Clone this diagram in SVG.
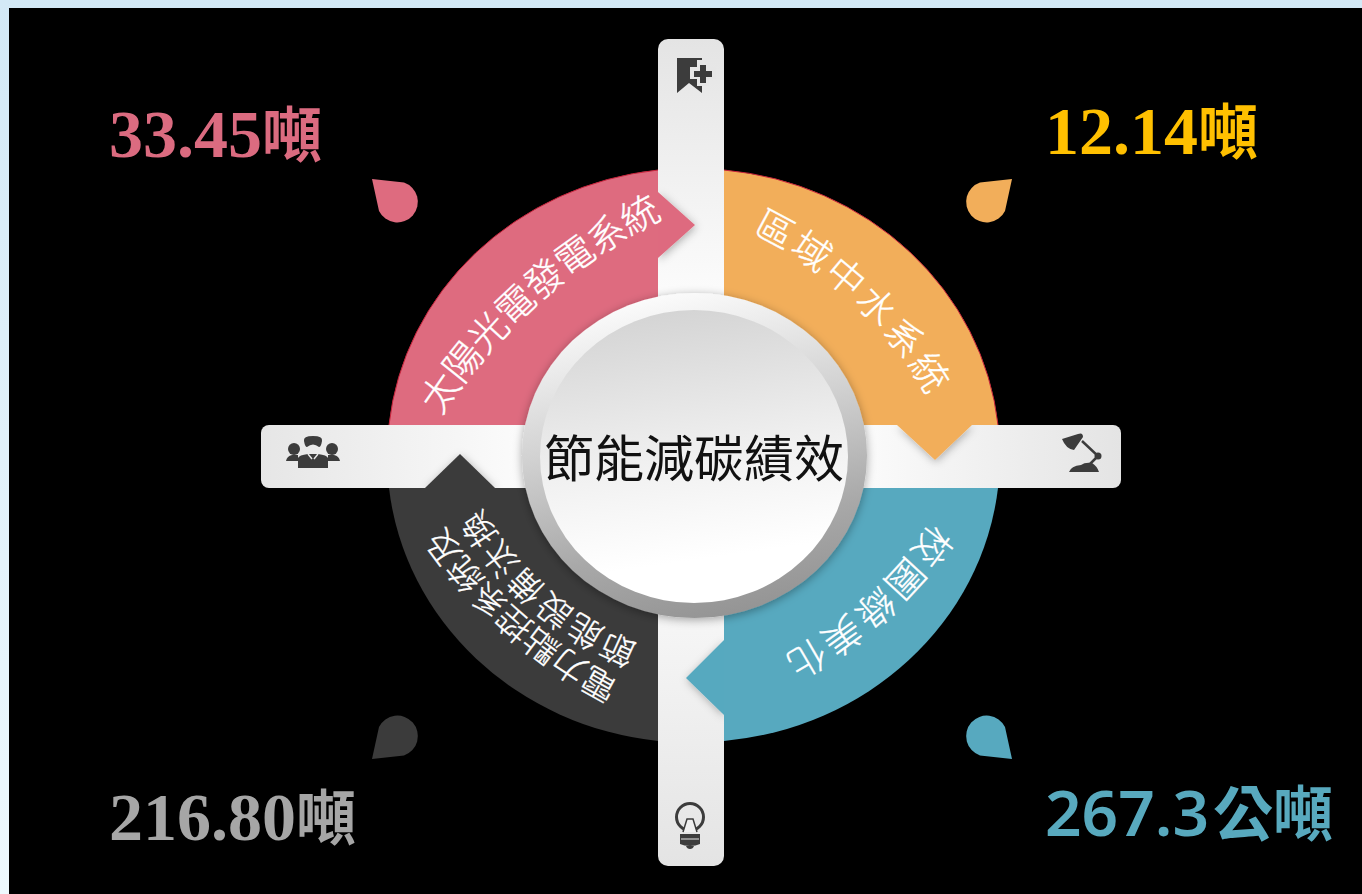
<svg xmlns="http://www.w3.org/2000/svg" width="1362" height="894" viewBox="0 0 1362 894">
<style>
.num{font-family:"Liberation Serif","Noto Sans CJK TC",serif;font-size:68px;font-weight:700}
.unit{font-family:"Noto Sans CJK TC",sans-serif;font-size:60px;font-weight:700}
.rib{font-family:"Noto Sans CJK TC","Noto Sans",sans-serif;font-weight:300;fill:#fff;stroke:#fff;stroke-width:.35;font-size:38px}
.rib2{font-size:34px}
.ico{fill:#3c3c3c}
.edge{fill:none;stroke:#c8243c;stroke-width:1}
</style>
<defs>
<linearGradient id="bg" x1="0" y1="0" x2="0" y2="1"><stop offset="0" stop-color="#d3e9f6"/><stop offset="1" stop-color="#eef9fe"/></linearGradient>
<linearGradient id="vb" x1="0" y1="0" x2="0" y2="1"><stop offset="0" stop-color="#e4e4e4"/><stop offset=".3" stop-color="#fbfbfb"/><stop offset=".7" stop-color="#f6f6f6"/><stop offset="1" stop-color="#e4e4e4"/></linearGradient>
<linearGradient id="hb" x1="0" y1="0" x2="1" y2="0"><stop offset="0" stop-color="#e6e6e6"/><stop offset=".3" stop-color="#fbfbfb"/><stop offset=".7" stop-color="#fbfbfb"/><stop offset="1" stop-color="#e4e4e4"/></linearGradient>
<linearGradient id="ring" x1="0.35" y1="0" x2="0.6" y2="1"><stop offset="0" stop-color="#fdfdfd"/><stop offset=".4" stop-color="#d2d2d2"/><stop offset=".75" stop-color="#a8a8a8"/><stop offset="1" stop-color="#949494"/></linearGradient>
<linearGradient id="disc" x1="0.4" y1="0" x2="0.55" y2="1"><stop offset="0" stop-color="#d4d4d4"/><stop offset=".5" stop-color="#f0f0f0"/><stop offset=".85" stop-color="#ffffff"/></linearGradient>
<filter id="sh" x="-20%" y="-20%" width="140%" height="140%"><feDropShadow dx="0" dy="2" stdDeviation="5" flood-color="#000" flood-opacity=".35"/></filter>
<filter id="sh2" x="-30%" y="-30%" width="160%" height="160%"><feDropShadow dx="1" dy="2" stdDeviation="4" flood-color="#000" flood-opacity=".3"/></filter>
<path id="p-pink" d="M440.7,415.9 A560,560 0 0 1 665.8,216.8 l17.7,-9.3"/>
<path id="p-orange" d="M751.9,233.1 A400,400 0 0 1 927.9,396.2 l11,16.7"/>
<path id="p-teal" d="M932.2,522.5 A416,416 0 0 1 781.4,657.3 l-17,10"/>
<path id="p-g1" d="M620.4,681.6 A490,490 0 0 1 441.4,523.6 l-12,-16"/>
<path id="p-g2" d="M638.9,644.4 A315,315 0 0 1 479.2,506 l-11,-16.7"/>
</defs>

<rect width="1362" height="894" fill="url(#bg)"/>
<rect x="9" y="8" width="1353" height="886" fill="#000"/>

<g id="connectors">
<rect id="bar-v" x="658" y="39" width="66" height="827" rx="10" fill="url(#vb)"/>
<rect id="bar-h" x="261" y="425" width="860" height="63" rx="8" fill="url(#hb)"/>
</g>

<g id="node-solar">
<path d="M658,192 L695,225 L658,258 Z" fill="#de6b7f" filter="url(#sh2)"/>
<path d="M389,425 A305,286 0 0 1 658,170 L658,425 Z" fill="#de6b7f"/>
<path class="edge" d="M389,425 A305,286 0 0 1 658,170"/>
<text class="rib"><textPath href="#p-pink" letter-spacing="-0.4">太陽光電發電系統</textPath></text>
<path d="M372,179 L404,182.5 A20.5,20.5 0 1 1 379,211 Z" fill="#de6b7f"/>
<text class="num" x="109" y="157" fill="#db6b80">33.45<tspan class="unit">噸</tspan></text>
</g>

<g id="node-water">
<path d="M897,425 L935,460 L972,425 Z" fill="#f2ae5a" filter="url(#sh2)"/>
<path d="M724,170 A305,286 0 0 1 998,425 L724,425 Z" fill="#f2ae5a"/>
<path class="edge" d="M724,170 A305,286 0 0 1 998,425"/>
<text class="rib"><textPath href="#p-orange" letter-spacing="3">區域中水系統</textPath></text>
<path d="M1012,179 L980,182.5 A20.5,20.5 0 1 0 1005,211 Z" fill="#f2ae5a"/>
<text class="num" x="1045" y="154" fill="#ffc000">12.14<tspan class="unit">噸</tspan></text>
</g>

<g id="node-green">
<path d="M724,640 L686,678 L724,715 Z" fill="#57a9bf" filter="url(#sh2)"/>
<path d="M998,488 A305,286 0 0 1 724,741 L724,488 Z" fill="#57a9bf"/>
<text class="rib"><textPath href="#p-teal" letter-spacing="3">校園綠美化</textPath></text>
<path d="M1012,759 L980,755.5 A20.5,20.5 0 1 1 1005,727 Z" fill="#57a9bf"/>
<text x="1045" y="836" fill="#58a9be" font-family="'Noto Sans','Noto Sans CJK TC',sans-serif" font-size="64" font-weight="600">267.3<tspan class="unit" dx="4" font-size="58">公噸</tspan></text>
</g>

<g id="node-power">
<path d="M425,488 L460,454 L495,488 Z" fill="#3b3b3b" filter="url(#sh2)"/>
<path d="M658,741 A305,286 0 0 1 389,488 L658,488 Z" fill="#3b3b3b"/>
<text class="rib rib2"><textPath href="#p-g1">電力點控系統及</textPath></text>
<text class="rib rib2"><textPath href="#p-g2" letter-spacing="1.8">節能設備汰換</textPath></text>
<path d="M372,759 L404,755.5 A20.5,20.5 0 1 0 379,727 Z" fill="#3b3b3b"/>
<text class="num" x="109" y="840" fill="#a6a6a6">216.80<tspan class="unit">噸</tspan></text>
</g>

<g id="node-center">
<ellipse cx="694.5" cy="455.5" rx="172.5" ry="162.5" fill="url(#ring)" filter="url(#sh)"/>
<ellipse cx="694" cy="456.5" rx="154" ry="146.5" fill="url(#disc)"/>
<text x="694" y="477" text-anchor="middle" font-family="'Noto Sans CJK TC',sans-serif" font-size="50" fill="#111">節能減碳績效</text>
</g>

<g id="icon-bookmark">
<path class="ico" d="M677,58 H702 V93 L689,83 L677,93 Z"/>
<path d="M699,62 h8 v7 h7 v8 h-7 v7 h-8 v-7 h-7 v-8 h7 Z" fill="#e6e6e6" stroke="#e6e6e6" stroke-width="4"/>
<path class="ico" d="M700,65 h6 v6 h6 v6 h-6 v6 h-6 v-6 h-6 v-6 h6 Z"/>
</g>

<g id="icon-people">
<circle class="ico" cx="294" cy="449" r="6"/>
<circle class="ico" cx="332" cy="449" r="6"/>
<path class="ico" d="M286,461 Q287,456 292,455 L298,455 V461 Z M340,461 Q339,456 334,455 L328,455 V461 Z"/>
<path class="ico" d="M304,441 Q303,436 313,436 Q323,436 322,441 Q321,447 319,447 Q313,442 307,447 Q305,447 304,441 Z"/>
<path class="ico" d="M298,468 V458 Q299,455 308,454 H318 Q327,455 328,458 V468 Z"/>
<path d="M308,454 L312,459 M318,454 L314,459" stroke="#e6e6e6" stroke-width="1.5" fill="none"/>
</g>

<g id="icon-lamp">
<path class="ico" d="M1062,439 L1078,434 Q1083,432 1083,437 L1074,450 Q1066,449 1062,439 Z"/>
<path d="M1082,441 L1098,456 L1088,466" fill="none" stroke="#3c3c3c" stroke-width="2.5"/>
<circle class="ico" cx="1098" cy="456" r="3.5"/>
<path class="ico" d="M1069,472 Q1071,466 1081,465 Q1085,462 1092,463 Q1097,466 1099,472 Z"/>
</g>

<g id="icon-bulb">
<circle cx="690" cy="817" r="13.5" fill="none" stroke="#3c3c3c" stroke-width="3"/>
<path d="M683,832 L687,819 H693 L697,832" fill="#f0f0f0" stroke="#3c3c3c" stroke-width="1.5"/>
<path class="ico" d="M680,834 H700 V844 Q696,846 690,846 Q684,846 680,844 Z"/>
<path d="M681,839 H699" stroke="#e6e6e6" stroke-width="1"/>
<path class="ico" d="M686,846 H694 Q693,849 690,849 Q687,849 686,846 Z"/>
</g>
</svg>
